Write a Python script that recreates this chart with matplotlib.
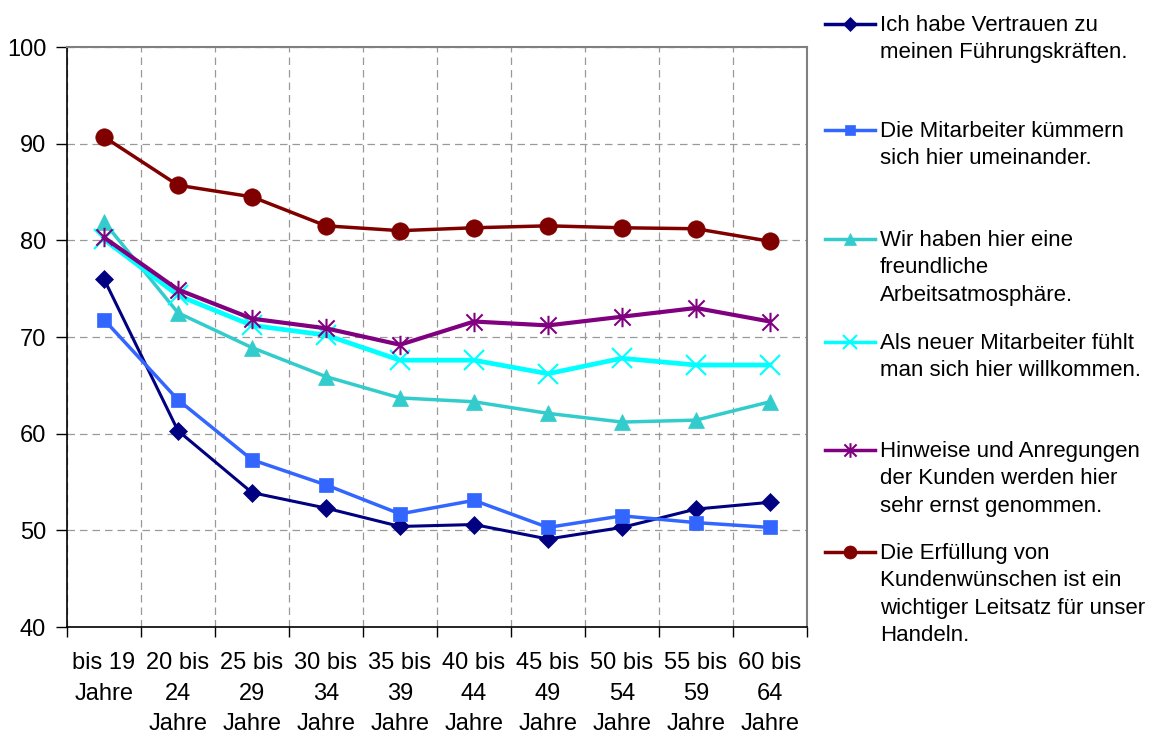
import matplotlib
matplotlib.use("Agg")
import matplotlib.pyplot as plt
from matplotlib.lines import Line2D
from matplotlib.path import Path
import numpy as np

plt.rcParams['font.family'] = ['Liberation Sans', 'DejaVu Sans']

categories = ["bis 19\nJahre", "20 bis\n24\nJahre", "25 bis\n29\nJahre", "30 bis\n34\nJahre",
              "35 bis\n39\nJahre", "40 bis\n44\nJahre", "45 bis\n49\nJahre", "50 bis\n54\nJahre",
              "55 bis\n59\nJahre", "60 bis\n64\nJahre"]

vertrauen   = [76.0, 60.3, 53.9, 52.3, 50.4, 50.6, 49.1, 50.3, 52.2, 52.9]
umeinander  = [71.8, 63.5, 57.3, 54.7, 51.7, 53.1, 50.3, 51.5, 50.8, 50.3]
atmosphaere = [81.9, 72.5, 68.9, 65.9, 63.7, 63.3, 62.1, 61.2, 61.4, 63.3]
willkommen  = [80.1, 74.3, 71.2, 70.2, 67.6, 67.6, 66.2, 67.8, 67.1, 67.1]
kunden      = [80.3, 74.9, 71.9, 70.9, 69.2, 71.6, 71.2, 72.1, 73.0, 71.6]
erfuellung  = [90.7, 85.7, 84.5, 81.5, 81.0, 81.3, 81.5, 81.3, 81.2, 79.9]

labels = ["Ich habe Vertrauen zu\nmeinen Führungskräften.",
          "Die Mitarbeiter kümmern\nsich hier umeinander.",
          "Wir haben hier eine\nfreundliche\nArbeitsatmosphäre.",
          "Als neuer Mitarbeiter fühlt\nman sich hier willkommen.",
          "Hinweise und Anregungen\nder Kunden werden hier\nsehr ernst genommen.",
          "Die Erfüllung von\nKundenwünschen ist ein\nwichtiger Leitsatz für unser\nHandeln."]

yticks = [40, 50, 60, 70, 80, 90, 100]

# asterisk marker: X plus vertical bar
s = 0.5
star_path = Path([(-s, -s), (s, s), (-s, s), (s, -s), (0, -0.6), (0, 0.6)],
                 [Path.MOVETO, Path.LINETO, Path.MOVETO, Path.LINETO, Path.MOVETO, Path.LINETO])

series = [
    (vertrauen, '#000080', 'D', 9.5, 2.2),
    (umeinander, '#3366FF', 's', 9.5, 2.5),
    (atmosphaere, '#33CCCC', '^', 12, 2.5),
    (willkommen, '#00FFFF', 'x', 14, 3.4),
    (kunden, '#800080', star_path, 14, 3.0),
    (erfuellung, '#800000', 'o', 12.5, 2.5),
]

W, H = 1152, 736
fig = plt.figure(figsize=(W / 100, H / 100), dpi=100)
ax = fig.add_axes([67 / W, 1 - 627 / H, 740 / W, 580 / H])

x = np.arange(len(categories))
for vals, col, mk, ms, lw in series:
    filled = mk not in ('x',) and not isinstance(mk, Path)
    ax.plot(x, vals, color=col, lw=lw, marker=mk, markersize=ms,
            markerfacecolor=col, markeredgecolor=col,
            markeredgewidth=(1.5 if not filled else 0.5))

ax.set_xlim(-0.5, len(categories) - 0.5)
ax.set_ylim(40, 100)
ax.set_yticks(yticks)
ax.set_yticklabels([str(v) for v in yticks], fontsize=17)

ax.set_xticks(np.arange(-0.5, len(categories), 1.0))
ax.set_xticklabels([])
ax.set_xticks(x, minor=True)
ax.set_xticklabels(categories, minor=True, fontsize=17, linespacing=1.5)
ax.tick_params(axis='x', which='minor', length=0, pad=18)
ax.tick_params(axis='x', which='major', length=7, width=1, direction='out', color='black')
ax.tick_params(axis='y', length=8, width=1, direction='out', pad=7)

ax.grid(True, which='major', axis='both', color='#999999', linestyle=(0, (6, 4)), linewidth=0.9)
ax.set_axisbelow(True)

for sp in ['left', 'bottom']:
    ax.spines[sp].set_color('black')
    ax.spines[sp].set_linewidth(1.2)
for sp in ['top', 'right']:
    ax.spines[sp].set_color('#808080')
    ax.spines[sp].set_linewidth(1.5)

# legend (manual, to match layout)
entry_y = [24, 130, 239, 342, 450, 552]
for (vals, col, mk, ms, lw), lab, yy in zip(series, labels, entry_y):
    yf = 1 - yy / H
    fig.add_artist(Line2D([825 / W, 875 / W], [yf, yf], color=col, lw=2.5,
                          transform=fig.transFigure))
    filled = mk not in ('x',) and not isinstance(mk, Path)
    fig.add_artist(Line2D([850 / W], [yf], color=col, marker=mk, markersize=ms * 0.75,
                          markerfacecolor=col, markeredgecolor=col,
                          markeredgewidth=(1.5 if not filled else 0.5),
                          transform=fig.transFigure))
    fig.text(880 / W, 1 - (yy - 9) / H, lab, fontsize=16, va='top', ha='left',
             linespacing=1.4)

fig.savefig("out.png", dpi=100, facecolor='white')
